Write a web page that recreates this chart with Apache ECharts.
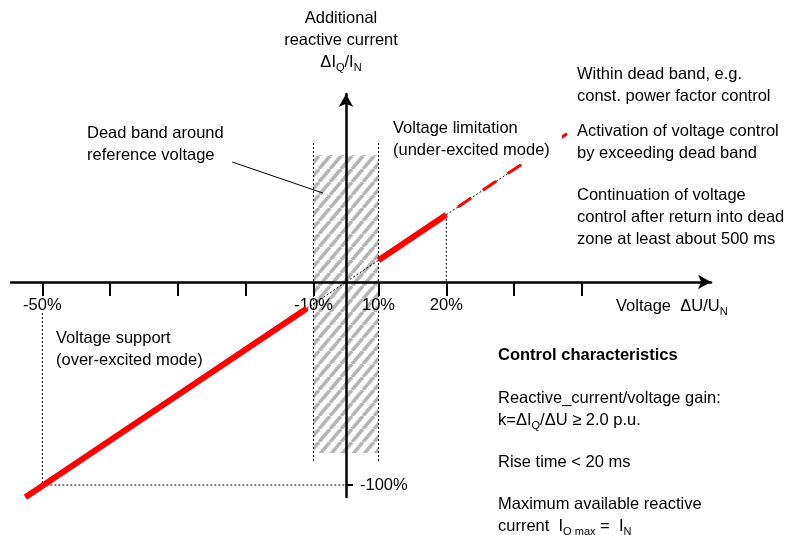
<!DOCTYPE html>
<html><head><meta charset="utf-8">
<script src="https://cdn.jsdelivr.net/npm/echarts@6/dist/echarts.min.js"></script>
<style>html,body{margin:0;padding:0;background:#fff}#c{width:788px;height:535px}</style>
</head><body><div id="c"></div>
<script>
// ---- data (percent values) ----
const xTickValues = [-50, -40, -30, -20, -10, 10, 20, 30, 40];
const xLabelValues = [-50, -10, 10, 20];
const yTickValues = [-100];
const deadBand = [-10, 10];              // x range of dead band (%)
const deadBandY = [62.6, -84.2];         // vertical extent of hatched box (%)
const redSupport = [[-52.5, -106], [-11, -13]];
const redLimitation = [[10, 10.7], [20, 33.1]];
const activationExt = [[20, 33.1], [37.8, 73]];
const insideDeadBand = [[-11, -13], [0, 0], [10, 10.7]];
const guideLines = [
  [[-50, -15.3], [-50, -100]],
  [[-50, -100], [0, -100]],
  [[-10, 68.5], [-10, -89.2]],
  [[10, 68.5], [10, -89.2]],
  [[20, 33.1], [20, 0]]
];
const leader = [[-22, 59.1], [-7.1, 43.8]];

// dead band is drawn compressed on the x axis (diagram is not to scale there)
const DB = 10, DB_SCALE = 0.479;
function fx(p) {
  const a = Math.abs(p);
  const d = a <= DB ? a * DB_SCALE : DB * DB_SCALE + (a - DB);
  return Math.sign(p) * d;
}
const pt = p => [fx(p[0]), p[1]];

function hatch() {
  const c = document.createElement('canvas');
  c.width = 11; c.height = 13;
  const g = c.getContext('2d');
  g.strokeStyle = '#b5b5b5'; g.lineWidth = 3.6;
  for (const o of [-11, 0, 11]) {
    g.beginPath(); g.moveTo(o, 13); g.lineTo(o + 11, 0); g.stroke();
  }
  return c;
}

const FONT = '"Liberation Sans", Arial, sans-serif';
const FS = 16.5, LH = 22;
const rich = {
  s: { fontSize: 11, fontFamily: FONT, fill: '#000', color: '#000', lineHeight: 12, verticalAlign: 'bottom' }
};
function txt(x, y, text, extra) {
  return {
    type: 'text', x: x, y: y, z: 100,
    style: Object.assign({
      text: text, fill: '#000', fontSize: FS, fontFamily: FONT, lineHeight: LH,
      textAlign: 'left', align: 'left', textVerticalAlign: 'top', verticalAlign: 'top', rich: rich
    }, extra || {})
  };
}

const thin = (data, color, width, type) => ({
  type: 'line', data: data.map(pt), symbol: 'none', silent: true, animation: false,
  lineStyle: { color: color, width: width, type: type || 'solid' }
});

const series = [];
// hatched dead band
series.push({
  type: 'line', data: [], silent: true, animation: false,
  markArea: {
    silent: true,
    itemStyle: { color: { image: hatch(), repeat: 'repeat' } },
    data: [[{ coord: [fx(deadBand[0]), deadBandY[0]] }, { coord: [fx(deadBand[1]), deadBandY[1]] }]]
  }
});
guideLines.forEach(g => series.push(thin(g, '#000', 1, [2, 2])));
series.push(thin(insideDeadBand, '#000', 1, [2, 2]));
series.push(thin(activationExt, '#000', 1, [2, 2]));
const act = thin(activationExt, '#ff0000', 3, [16, 14]);
act.lineStyle.dashOffset = 16;
series.push(act);
series.push(thin(redSupport, '#ff0000', 6));
series.push(thin(redLimitation, '#ff0000', 6));
series.push(thin(leader, '#000', 1));
// axis tick labels placed next to the axes (which sit on zero)
const labelStyle = { show: true, formatter: p => p.name, color: '#000', fontSize: FS, fontFamily: FONT, opacity: 1 };
series.push({
  type: 'scatter', z: 1, silent: true, animation: false, symbolSize: 0, itemStyle: { opacity: 1 },
  data: xLabelValues.map(v => ({ value: [fx(v), 0], name: v + '%' })),
  label: Object.assign({ position: 'bottom', distance: 15 }, labelStyle)
});
series.push({
  type: 'scatter', z: 1, silent: true, animation: false, symbolSize: 0, itemStyle: { opacity: 1 },
  data: yTickValues.map(v => ({ value: [0, v], name: v + '%' })),
  label: Object.assign({ position: 'right', distance: 14 }, labelStyle)
});

const chart = echarts.init(document.getElementById('c'), null, { renderer: 'canvas' });
chart.setOption({
  animation: false,
  grid: { left: 11, right: 77, top: 94, bottom: 38, containLabel: false },
  xAxis: {
    type: 'value', min: -49.41, max: 53.83, z: 10,
    axisLine: { onZero: true, lineStyle: { color: '#000', width: 2.5 }, symbol: ['none', 'arrow'], symbolSize: [11, 13] },
    axisTick: { show: true, length: 14, lineStyle: { color: '#000', width: 2 }, customValues: xTickValues.map(fx) },
    axisLabel: { show: false },
    splitLine: { show: false }
  },
  yAxis: {
    type: 'value', min: -105.9, max: 92.6, z: 10,
    axisLine: { onZero: true, lineStyle: { color: '#000', width: 2.5 }, symbol: ['none', 'arrow'], symbolSize: [11, 13] },
    axisTick: { show: true, inside: true, length: 7, lineStyle: { color: '#000', width: 2 }, customValues: yTickValues },
    axisLabel: { show: false },
    splitLine: { show: false }
  },
  series: series,
  graphic: [
    txt(341, 7, 'Additional\nreactive current\nΔI{s|Q}/I{s|N}', { textAlign: 'center', align: 'center' }),
    txt(393, 117, 'Voltage limitation\n(under-excited mode)', { backgroundColor: '#fff', padding: [0, 12, 3, 0] }),
    txt(87, 122, 'Dead band around\nreference voltage'),
    txt(577, 63, 'Within dead band, e.g.\nconst. power factor control'),
    txt(577, 120, 'Activation of voltage control\nby exceeding dead band'),
    txt(577, 184, 'Continuation of voltage\ncontrol after return into dead\nzone at least about 500 ms'),
    txt(616, 295, 'Voltage  ΔU/U{s|N}'),
    txt(56, 327, 'Voltage support\n(over-excited mode)'),
    txt(498, 344, 'Control characteristics', { fontWeight: 'bold' }),
    txt(498, 387, 'Reactive_current/voltage gain:\nk=ΔI{s|Q}/ΔU ≥ 2.0 p.u.'),
    txt(498, 451, 'Rise time < 20 ms'),
    txt(498, 493, 'Maximum available reactive\ncurrent  I{s|Q max} =  I{s|N}')
  ]
});
</script>
</body></html>
